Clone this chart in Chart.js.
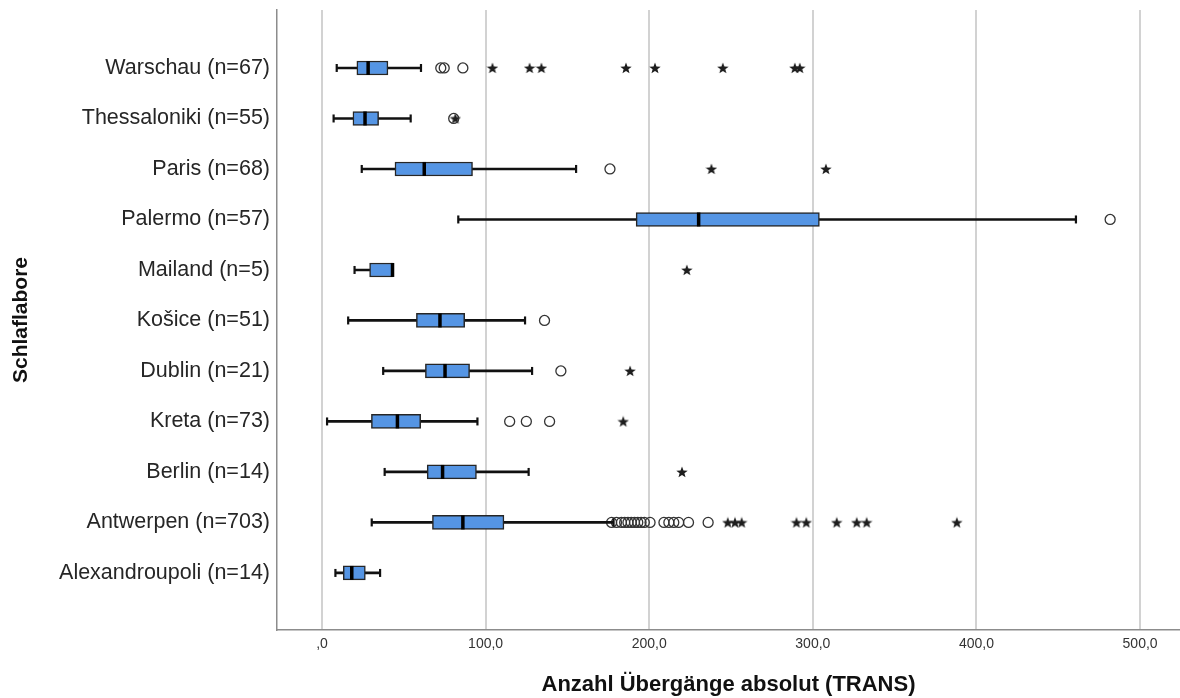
<!DOCTYPE html>
<html>
<head>
<meta charset="utf-8">
<script src="https://cdn.jsdelivr.net/npm/chart.js@4"></script>
<style>
  html, body { margin: 0; padding: 0; background: #fff; }
  #wrap { width: 1180px; height: 698px; }
</style>
</head>
<body>
<div id="wrap"><canvas id="boxChart" width="1180" height="698"></canvas></div>
<script>
// values
const categories = ['Warschau (n=67)', 'Thessaloniki (n=55)', 'Paris (n=68)', 'Palermo (n=57)', 'Mailand (n=5)',
  'Košice (n=51)', 'Dublin (n=21)', 'Kreta (n=73)', 'Berlin (n=14)', 'Antwerpen (n=703)', 'Alexandroupoli (n=14)'];
const whiskerLow = [9.0, 7.1, 24.3, 83.3, 19.9, 16.0, 37.4, 3.1, 38.3, 30.4, 8.2];
const q1 = [21.3, 18.9, 44.6, 192.0, 29.1, 57.7, 63.2, 30.2, 64.3, 67.5, 13.0];
const median = [28.2, 26.3, 62.5, 230.2, 43.1, 72.1, 75.2, 46.1, 73.7, 86.1, 18.2];
const q3 = [40.3, 34.6, 92.0, 304.0, 43.1, 87.2, 90.2, 60.3, 94.4, 111.2, 26.5];
const whiskerHigh = [60.5, 54.2, 155.3, 460.8, 43.1, 124.1, 128.4, 95.0, 126.3, 178.2, 35.5];
const circleOutliers = [[72.6, 74.7, 86.1], [80.5], [176.0], [481.7], [], [136.0], [146.0],
  [114.7, 124.9, 139.1], [],
  [177, 180, 183, 185, 187, 189, 191, 193, 195, 197, 200.5, 209, 212, 215, 218, 224, 236], []];
const starOutliers = [[104.2, 126.9, 134.1, 185.8, 203.5, 245.0, 289.0, 292.0], [81.5], [238.0, 308.0], [], [223.0],
  [], [188.3], [184.1], [220.0], [248, 252.4, 256.5, 290, 296, 314.6, 326.8, 332.9, 388], []];
const xTicks = [0, 100, 200, 300, 400, 500];
const xTickLabels = [',0', '100,0', '200,0', '300,0', '400,0', '500,0'];

Chart.defaults.font.family = "'Liberation Sans', Arial, sans-serif";
Chart.defaults.animation = false;

// filled five-point star like the SPSS extreme marker
function makeStar(size) {
  const c = document.createElement('canvas');
  c.width = size;
  c.height = size;
  const g = c.getContext('2d');
  const cx = size / 2, cy = size / 2 + 0.5, R = size / 2, r = R * 0.42;
  g.beginPath();
  for (let k = 0; k < 10; k++) {
    const rad = k % 2 === 0 ? R : r;
    const a = -Math.PI / 2 + k * Math.PI / 5;
    g.lineTo(cx + rad * Math.cos(a), cy + rad * Math.sin(a));
  }
  g.closePath();
  g.fillStyle = '#1e1e1e';
  g.fill();
  return c;
}
const starImg = makeStar(12);

const idx = categories.map((c, i) => i);
const flat = (lists) => lists.flatMap((vals, i) => vals.map(v => ({ x: v, y: i })));

new Chart(document.getElementById('boxChart'), {
  type: 'bar',
  data: {
    datasets: [
      {
        type: 'scatter',
        label: 'median',
        data: idx.map(i => ({ x: median[i], y: i })),
        pointStyle: 'line',
        rotation: 90,
        pointRadius: 7,
        borderWidth: 3.5,
        borderColor: '#000'
      },
      {
        label: 'box',
        data: idx.map(i => ({ x: [q1[i], q3[i]], y: i })),
        backgroundColor: '#5595e4',
        borderColor: '#262626',
        borderWidth: 1.5,
        borderSkipped: false,
        barThickness: 14,
        grouped: false
      },
      {
        label: 'whisker',
        data: idx.map(i => ({ x: [whiskerLow[i], whiskerHigh[i]], y: i })),
        backgroundColor: '#111',
        borderWidth: 0,
        barThickness: 2,
        grouped: false
      },
      {
        type: 'scatter',
        label: 'caps',
        data: idx.flatMap(i => [{ x: whiskerLow[i], y: i }, { x: whiskerHigh[i], y: i }]),
        pointStyle: 'line',
        rotation: 90,
        pointRadius: 4,
        borderWidth: 2.2,
        borderColor: '#111'
      },
      {
        type: 'scatter',
        label: 'outlier',
        data: flat(circleOutliers),
        pointStyle: 'circle',
        pointRadius: 5,
        borderWidth: 1.3,
        borderColor: '#333',
        backgroundColor: 'rgba(255,255,255,0)'
      },
      {
        type: 'scatter',
        label: 'extreme',
        data: flat(starOutliers),
        pointStyle: starImg
      }
    ]
  },
  options: {
    indexAxis: 'y',
    responsive: false,
    events: [],
    layout: { autoPadding: false, padding: { top: 10, right: 0, left: 0, bottom: 0 } },
    plugins: {
      legend: { display: false },
      tooltip: { enabled: false }
    },
    scales: {
      x: {
        type: 'linear',
        position: 'bottom',
        min: -27.5,
        max: 524.4,
        offset: false,
        afterBuildTicks: (scale) => { scale.ticks = xTicks.map(v => ({ value: v })); },
        afterFit: (scale) => {
          scale.height = 68;
          scale.paddingLeft = 0;
          scale.paddingRight = 0;
        },
        ticks: {
          callback: (v) => xTickLabels[xTicks.indexOf(v)],
          color: '#333',
          font: { size: 14 },
          padding: 6,
          maxRotation: 0
        },
        grid: { color: '#d2d2d2', lineWidth: 2, drawTicks: false, offset: false },
        border: { color: '#8c8c8c', width: 1.5 },
        title: {
          display: true,
          text: 'Anzahl Übergänge absolut (TRANS)',
          color: '#111',
          font: { size: 22, weight: 'bold' },
          padding: { top: 0, bottom: 0 }
        }
      },
      y: {
        type: 'linear',
        reverse: true,
        min: -1.148,
        max: 11.13,
        offset: false,
        afterBuildTicks: (scale) => { scale.ticks = idx.map(i => ({ value: i })); },
        afterFit: (scale) => {
          scale.width = 277;
          scale.paddingTop = 0;
          scale.paddingBottom = 0;
        },
        ticks: {
          callback: (v) => categories[v],
          color: '#262626',
          font: { size: 21.5 },
          padding: 7
        },
        grid: { display: false, drawTicks: false, offset: false },
        border: { color: '#8c8c8c', width: 1.5 },
        title: {
          display: true,
          text: 'Schlaflabore',
          color: '#111',
          font: { size: 21, weight: 'bold' },
          padding: { top: 9, bottom: 0 }
        }
      }
    }
  }
});
</script>
</body>
</html>
